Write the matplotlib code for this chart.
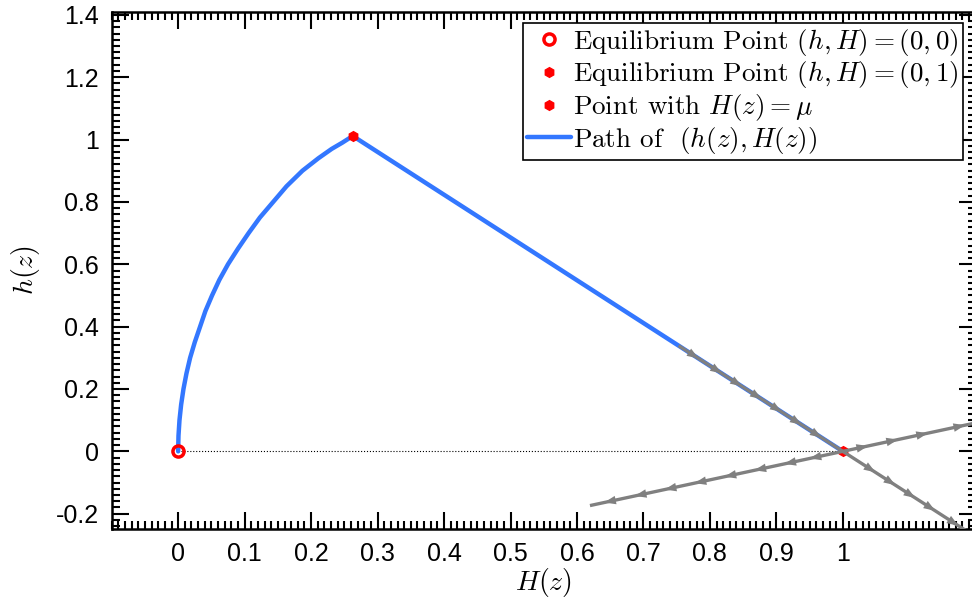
import numpy as np
from matplotlib import pyplot as plt, rcParams
from matplotlib.ticker import MultipleLocator

rcParams["font.family"] = "Liberation Sans"
rcParams["mathtext.fontset"] = "cm"

# Path of (h(z), H(z)): rising arc, then straight to (1, 0)
path_H = [0.0, 0.0005, 0.002, 0.0045, 0.008, 0.0125, 0.018, 0.025, 0.033,
          0.041, 0.051, 0.062, 0.075, 0.090, 0.106, 0.123, 0.143, 0.163,
          0.187, 0.211, 0.231, 0.247, 0.258, 0.263, 1.0]
path_h = [0.0, 0.05, 0.10, 0.15, 0.20, 0.25, 0.30, 0.35, 0.40,
          0.45, 0.50, 0.55, 0.60, 0.65, 0.70, 0.75, 0.80, 0.85,
          0.90, 0.94, 0.97, 0.99, 1.005, 1.011, 0.0]

# equilibrium and special points (H, h)
eq0 = (0.0, 0.0)
eq1 = (1.0, 0.0)
mu_pt = (0.263, 1.011)

# manifolds through (H, h) = (1, 0): slopes and H extent
slope_a = -1.372
slope_b = 0.457
line_a_H = [0.755, 1.2]
line_b_H = [0.622, 1.2]
# arrow positions along each manifold (H values)
arrows_a_H = [0.775, 0.810, 0.840, 0.870, 0.900, 0.930, 0.960,
              1.041, 1.071, 1.101, 1.131, 1.166]
arrows_b_H = [0.649, 0.695, 0.740, 0.785, 0.830, 0.875, 0.920, 0.958,
              1.030, 1.075, 1.120, 1.176]

xticks = [0, 0.1, 0.2, 0.3, 0.4, 0.5, 0.6, 0.7, 0.8, 0.9, 1]
yticks = [-0.2, 0, 0.2, 0.4, 0.6, 0.8, 1, 1.2, 1.4]

fig = plt.figure(figsize=(9.72, 6.12), dpi=100)
ax = fig.add_axes([0.1149, 0.1351, 0.889, 0.8458])

grey = "#808080"
blue = "#3377ff"

# dotted reference line h = 0
ax.plot([0, 1], [0, 0], ls=":", c="k", lw=0.8, zorder=1)

ax.plot(path_H, path_h, c=blue, lw=3.2, solid_joinstyle="round",
        solid_capstyle="round", label="Path of  $(h(z),H(z))$", zorder=2)


def manifold(slope, hs, arrow_hs, outward):
    hs = np.array(hs)
    ax.plot(hs, slope * (hs - 1.0), c=grey, lw=2.4, zorder=3)
    for x in arrow_hs:
        y = slope * (x - 1.0)
        d = (1 if x > 1 else -1) if outward else 1
        dx = 0.008 * d
        ax.annotate(
            "",
            xy=(x + dx, y + slope * dx),
            xytext=(x, y),
            arrowprops=dict(arrowstyle="-|>,head_length=0.6,head_width=0.22",
                            color=grey, lw=0, mutation_scale=14,
                            shrinkA=0, shrinkB=0),
            zorder=4,
        )


manifold(slope_a, line_a_H, arrows_a_H, outward=False)
manifold(slope_b, line_b_H, arrows_b_H, outward=True)

ax.plot(*eq0, ls="none", marker="o", ms=8, mfc="none", mec="red", mew=2.5,
        label="Equilibrium Point $(h,H)=(0,0)$", zorder=2.5)
ax.plot(*eq1, ls="none", marker="h", ms=7, c="red",
        label="Equilibrium Point $(h,H)=(0,1)$", zorder=2.5)
ax.plot(*mu_pt, ls="none", marker="h", ms=7, c="red",
        label="Point with $H(z)=\\mu$", zorder=2.5)

ax.set_xlim(-0.1, 1.2)
ax.set_ylim(-0.25, 1.41)
ax.set_xticks(xticks, [f"{v:g}" for v in xticks])
ax.set_yticks(yticks, [f"{v:g}" for v in yticks])
ax.xaxis.set_minor_locator(MultipleLocator(0.01))
ax.yaxis.set_minor_locator(MultipleLocator(0.02))
ax.tick_params(which="both", direction="in", top=True, right=True,
               width=1.5, labelsize=18, pad=9)
ax.tick_params(which="major", length=12)
ax.tick_params(which="minor", length=6)
for s in ax.spines.values():
    s.set_linewidth(1.8)

ax.set_xlabel("$H(z)$", fontsize=20, labelpad=0)
ax.set_ylabel("$h(z)$", fontsize=20, labelpad=10)

handles, labels = ax.get_legend_handles_labels()
order = [1, 2, 3, 0]
leg = ax.legend(
    [handles[i] for i in order],
    [labels[i] for i in order],
    loc="upper right",
    bbox_to_anchor=(963 / 972, 1 - 22.7 / 612),
    bbox_transform=fig.transFigure,
    borderaxespad=0,
    fancybox=False,
    framealpha=1,
    edgecolor="k",
    prop={"family": "cmr10", "size": 19.5},
    handlelength=1.6,
    handletextpad=0.1,
    labelspacing=0.06,
    borderpad=0.15,
)
leg.get_frame().set_linewidth(1.2)

fig.savefig("out.png", dpi=100)
